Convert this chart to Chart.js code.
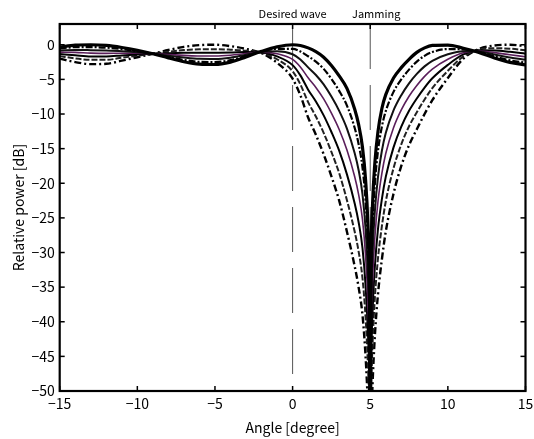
<!DOCTYPE html>
<html>
<head>
<meta charset="utf-8">
<script src="https://cdn.jsdelivr.net/npm/chart.js@4/dist/chart.umd.min.js"></script>
<style>
html,body{margin:0;padding:0;background:#fff;}
canvas{display:block;}
</style>
</head>
<body>
<canvas id="c" width="534" height="439"></canvas>
<script>
// ---- data ----
const angles = [-15,-14,-13,-12,-11,-10,-9,-8,-7,-6,-5,-4,-3,-2,-1,0,0.5,1,1.5,2,2.5,3,3.5,4,4.25,4.5,4.7,4.85,4.95,5,5.05,5.15,5.3,5.5,5.75,6,6.5,7,7.5,8,8.5,9,10,11,12,13,14,15];

const curve1 = [-0.35,-0.05,0,-0.1,-0.4,-0.8,-1.3,-1.9,-2.45,-2.8,-2.85,-2.5,-1.75,-0.95,-0.3,0,-0.1,-0.45,-1.0,-1.8,-3.0,-4.5,-6.3,-9.3,-11.5,-14.8,-19.5,-26,-36,-60,-33,-23,-17,-12.5,-9.2,-7.2,-4.8,-3.3,-2.1,-1.1,-0.45,-0.1,-0.05,-0.5,-1.1,-1.9,-2.55,-2.9];
const curve2 = [-0.55,-0.34,-0.34,-0.42,-0.63,-0.92,-1.3,-1.76,-2.19,-2.47,-2.51,-2.22,-1.61,-0.98,-0.58,-0.59,-0.96,-1.66,-2.44,-3.48,-4.92,-6.66,-8.78,-12.02,-14.32,-17.7,-22.56,-29.12,-38.64,-60,-35.76,-26.12,-20.0,-15.32,-11.82,-9.58,-6.8,-5.0,-3.59,-2.43,-1.6,-1.05,-0.62,-0.68,-1.04,-1.68,-2.24,-2.58];
const curve3 = [-0.81,-0.74,-0.78,-0.84,-0.93,-1.08,-1.3,-1.58,-1.85,-2.03,-2.05,-1.86,-1.43,-1.02,-0.94,-1.37,-2.12,-3.26,-4.36,-5.72,-7.48,-9.54,-12.1,-15.66,-18.08,-21.58,-26.64,-33.28,-42.16,-60,-39.44,-30.28,-24.0,-19.08,-15.3,-12.74,-9.48,-7.28,-5.57,-4.21,-3.12,-2.31,-1.38,-0.92,-0.96,-1.4,-1.84,-2.14];
const curve4 = [-1.06,-1.1,-1.2,-1.24,-1.22,-1.23,-1.3,-1.41,-1.53,-1.62,-1.62,-1.51,-1.26,-1.06,-1.29,-2.11,-3.2,-4.77,-6.16,-7.82,-9.88,-12.24,-15.2,-19.06,-21.6,-25.21,-30.47,-37.18,-45.46,-60,-42.89,-34.18,-27.75,-22.6,-18.57,-15.71,-11.98,-9.41,-7.43,-5.87,-4.56,-3.5,-2.09,-1.15,-0.89,-1.13,-1.45,-1.74];
const curve5 = [-1.34,-1.52,-1.68,-1.69,-1.54,-1.4,-1.3,-1.21,-1.16,-1.15,-1.14,-1.12,-1.06,-1.1,-1.68,-2.94,-4.42,-6.48,-8.2,-10.2,-12.6,-15.3,-18.72,-22.92,-25.6,-29.32,-34.8,-41.6,-49.2,-60,-46.8,-38.6,-32,-26.6,-22.28,-19.08,-14.82,-11.82,-9.54,-7.76,-6.18,-4.84,-2.9,-1.4,-0.8,-0.82,-1.02,-1.28];
const curve6 = [-1.64,-1.96,-2.18,-2.17,-1.88,-1.58,-1.3,-1.0,-0.77,-0.66,-0.63,-0.71,-0.85,-1.15,-2.09,-3.82,-5.72,-8.29,-10.36,-12.72,-15.48,-18.54,-22.45,-27.01,-29.83,-33.68,-39.39,-46.28,-53.16,-60,-50.94,-43.28,-36.5,-30.83,-26.2,-22.64,-17.83,-14.38,-11.77,-9.76,-7.9,-6.26,-3.76,-1.67,-0.71,-0.5,-0.56,-0.79];
const curve7 = [-2.0,-2.5,-2.8,-2.75,-2.3,-1.8,-1.3,-0.75,-0.3,-0.05,0,-0.2,-0.6,-1.2,-2.6,-4.9,-7.3,-10.5,-13,-15.8,-19,-22.5,-27,-32,-35,-39,-45,-52,-58,-60,-56,-49,-42,-36,-31,-27,-21.5,-17.5,-14.5,-12.2,-10,-8,-4.8,-2.0,-0.6,-0.1,0,-0.2];

const xTicks = [-15,-10,-5,0,5,10,15];
const xTickLabels = ['\u221215','\u221210','\u22125','0','5','10','15'];
const yTicks = [0,-5,-10,-15,-20,-25,-30,-35,-40,-45,-50];
const yTickLabels = ['0','\u22125','\u221210','\u221215','\u221220','\u221225','\u221230','\u221235','\u221240','\u221245','\u221250'];
const markerAngles = [0, 5];
const markerLabels = ['Desired wave', 'Jamming'];
const xLabel = 'Angle [degree]';
const yLabel = 'Relative power [dB]';

// ---- build ----
const FONT = '"Noto Sans CJK JP", "Noto Sans", sans-serif';
const toPts = arr => angles.map((a,i)=>({x:a,y:arr[i]}));
const styles = [
  {c:'#000000', w:3.2, d:[]},
  {c:'#000000', w:2.2, d:[7,2,2,2]},
  {c:'#111111', w:2.0, d:[]},
  {c:'#5a1e5a', w:1.6, d:[]},
  {c:'#000000', w:2.0, d:[]},
  {c:'#222222', w:2.0, d:[6,2]},
  {c:'#000000', w:2.4, d:[7,3,2,3]}
];
const curves = [curve1,curve2,curve3,curve4,curve5,curve6,curve7];
const datasets = curves.map((arr,i)=>({
  data: toPts(arr), borderColor: styles[i].c, borderWidth: styles[i].w, borderDash: styles[i].d,
  pointRadius: 0, showLine: true, cubicInterpolationMode: 'monotone', clip: 0
}));
const yTop = 3, yBottom = -50;
markerAngles.forEach(a=>{
  datasets.push({data:[{x:a,y:yTop},{x:a,y:yBottom}], borderColor:'#555', borderWidth:1,
    borderDash:[45,16], pointRadius:0, showLine:true, tension:0, clip:0});
});

const frame = {
  id:'frame',
  afterDatasetsDraw(chart){
    const {ctx, chartArea:{left,right,top,bottom}, scales:{x,y}} = chart;
    ctx.save();
    ctx.strokeStyle='#000';
    ctx.lineWidth=1.5;
    const tl=5;
    const ln=(a,b,c,d)=>{ctx.beginPath();ctx.moveTo(a,b);ctx.lineTo(c,d);ctx.stroke();};
    x.ticks.forEach(t=>{const p=x.getPixelForValue(t.value); ln(p,bottom,p,bottom-tl); ln(p,top,p,top+tl);});
    y.ticks.forEach(t=>{const p=y.getPixelForValue(t.value); ln(left,p,left+tl,p); ln(right,p,right-tl,p);});
    ctx.lineWidth=2.2;
    ctx.strokeRect(left,top,right-left,bottom-top);
    ctx.fillStyle='#000';
    ctx.font='11px '+FONT;
    ctx.textAlign='center';
    ctx.textBaseline='middle';
    markerAngles.forEach((a,i)=>{
      const p=x.getPixelForValue(a) + (i===1?6:0);
      ctx.fillText(markerLabels[i], p, top-10);
    });
    ctx.restore();
  }
};

new Chart(document.getElementById('c'), {
  type:'scatter',
  data:{datasets},
  options:{
    responsive:false, animation:false, devicePixelRatio:1,
    layout:{padding:{top:24,right:8.5,left:0,bottom:0}},
    plugins:{legend:{display:false}, tooltip:{enabled:false}},
    scales:{
      x:{
        type:'linear', min:-15, max:15,
        afterBuildTicks: s=>{ s.ticks = xTicks.map(v=>({value:v})); },
        afterFit: s=>{ s.height = 48; s.paddingLeft = 0; s.paddingRight = 0; },
        grid:{display:false, drawTicks:false}, border:{display:false},
        ticks:{ padding:4, color:'#000', font:{family:FONT,size:14}, maxRotation:0,
          callback:(v)=>{const i=xTicks.indexOf(v); return i>=0?xTickLabels[i]:'';} },
        title:{display:true, text:xLabel, color:'#000', font:{family:FONT,size:14}, padding:{top:0,bottom:3}}
      },
      y:{
        type:'linear', min:yBottom, max:yTop,
        afterBuildTicks: s=>{ s.ticks = yTicks.map(v=>({value:v})); },
        afterFit: s=>{ s.width = 59.7; s.paddingTop = 0; s.paddingBottom = 0; },
        grid:{display:false, drawTicks:false}, border:{display:false},
        ticks:{ padding:5, color:'#000', font:{family:FONT,size:14},
          callback:(v)=>{const i=yTicks.indexOf(v); return i>=0?yTickLabels[i]:'';} },
        title:{display:true, text:yLabel, color:'#000', font:{family:FONT,size:14}, padding:{top:10,bottom:0}}
      }
    }
  },
  plugins:[frame]
});
</script>
</body>
</html>
